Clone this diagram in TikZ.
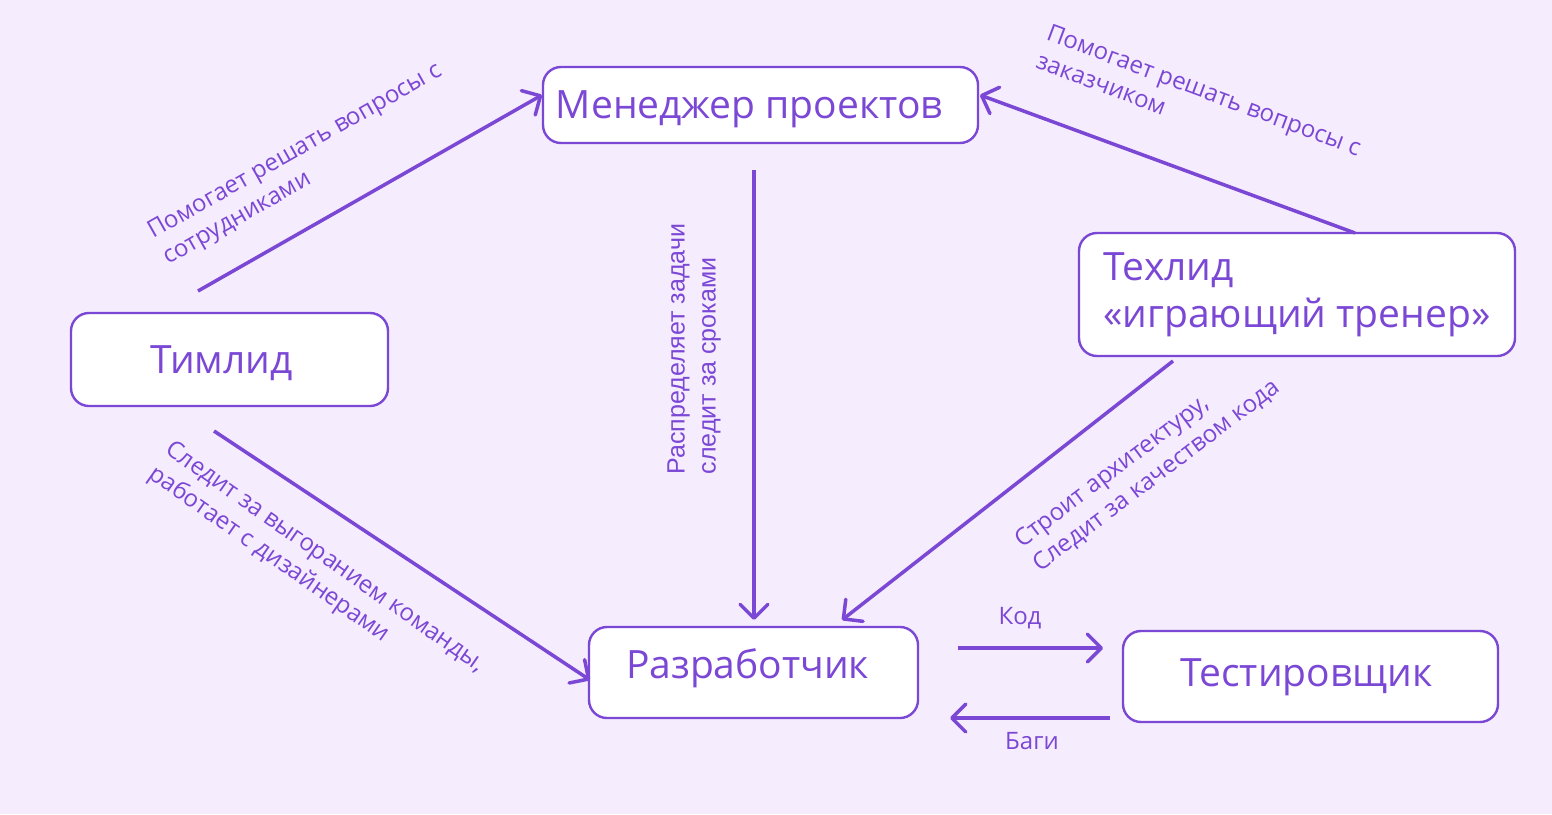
\documentclass[tikz,border=0pt]{standalone}
\usepackage{fontspec}
\setmainfont{Open Sans}
\newfontfamily\arialfont{Liberation Sans}
\usetikzlibrary{arrows.meta}
\definecolor{lav}{HTML}{F5ECFD}
\definecolor{purp}{HTML}{7B47D5}
\tikzset{
  role/.style={draw=purp, line width=1.2pt, fill=white, rounded corners=9pt, text=purp,
    font=\fontsize{19.5}{23.5}\selectfont, inner sep=0pt},
  oneline/.style={text height=14pt, text depth=0.5pt},
  arr/.style={purp, line width=1.75pt, -{Straight Barb[length=7pt,width=14pt,round]}},
  lbl/.style={text=purp, font=\fontsize{12}{15}\selectfont, align=left, inner sep=0pt},
}
\begin{document}
\begin{tikzpicture}[x=0.5pt,y=-0.5pt]
\fill[lav] (0,0) rectangle (1552,814);

\node[role, oneline, minimum width=217.5pt, minimum height=38pt] (mgr) at (760.5,105) {\hspace*{-11pt}Менеджер проектов};
\node[role, oneline, minimum width=158.5pt, minimum height=46.5pt] (tim) at (229.5,359.5) {\hspace*{-8pt}Тимлид};
\node[role, minimum width=218pt, minimum height=61.5pt, align=left] (teh) at (1297,294.5) {Техлид\\«играющий тренер»};
\node[role, oneline, text depth=8.5pt, minimum width=164.5pt, minimum height=45.5pt] (dev) at (753.5,672.5) {\hspace*{-6pt}Разработчик};
\node[role, oneline, text depth=4pt, minimum width=187.5pt, minimum height=45.5pt] (qa) at (1310.5,676.5) {\hspace*{-4pt}Тестировщик};

\coordinate (tim-up) at (198,291);
\coordinate (mgr-w) at (542,95);
\coordinate (teh-up) at (1355,233);
\coordinate (mgr-e) at (980,95);
\coordinate (mgr-dn) at (754,170);
\coordinate (dev-n) at (754,620);
\coordinate (tim-dn) at (214,431);
\coordinate (dev-w) at (590,680);
\coordinate (teh-dn) at (1173,361);
\coordinate (dev-ne) at (842,620);
\coordinate (kod-s) at (958,648);
\coordinate (kod-e) at (1103,648);
\coordinate (bag-s) at (1110,718);
\coordinate (bag-e) at (950,718);

\draw[arr] (tim-up) -- (mgr-w);
\draw[arr] (teh-up) -- (mgr-e);
\draw[arr] (mgr-dn) -- (dev-n);
\draw[arr] (tim-dn) -- (dev-w);
\draw[arr] (teh-dn) -- (dev-ne);
\draw[arr] (kod-s) -- (kod-e);
\draw[arr] (bag-s) -- (bag-e);

\node[lbl, rotate=29.5] (l-tim) at (303,165) {Помогает решать вопросы с\\сотрудниками};
\node[lbl, rotate=-20.5] (l-teh) at (1199,104) {Помогает решать вопросы с\\заказчиком};
\node[lbl, rotate=90, font=\arialfont\fontsize{12.5}{15.5}\selectfont] (l-mgr) at (694,349) {Распределяет задачи\\следит за сроками};
\node[lbl, rotate=-35] (l-burn) at (316,570) {Следит за выгоранием команды,\\работает с дизайнерами};
\node[lbl, rotate=37] (l-arch) at (1148,464) {Строит архитектуру,\\Следит за качеством кода};
\node[lbl] (l-kod) at (1020,618) {Код};
\node[lbl] (l-bag) at (1032,741) {Баги};
\end{tikzpicture}
\end{document}
